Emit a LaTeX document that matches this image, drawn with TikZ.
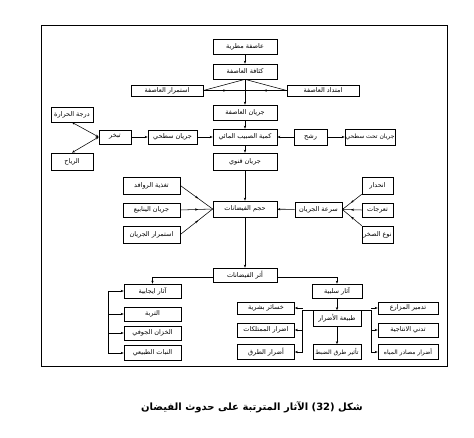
\documentclass[tikz,border=0pt]{standalone}
\usepackage{fontspec}
\newfontfamily\arabicfont[Script=Arabic]{DejaVu Sans}
\TeXXeTstate=1
\usetikzlibrary{arrows.meta,decorations.markings,calc}
\tikzset{
 box/.style={draw, line width=0.7pt, inner sep=0.5pt, font=\fontsize{6.5}{7}\arabicfont, align=center},
 small/.style={font=\fontsize{6}{7}\arabicfont},
 conn/.style={line width=0.55pt},
 arr/.style={conn, -{Stealth[length=3pt,width=2.4pt]}},
 darr/.style={conn, {Stealth[length=3pt,width=2.4pt]}-{Stealth[length=3pt,width=2.4pt]}},
 midarr/.style={conn, postaction={decorate}, decoration={markings, mark=at position 0.55 with {\arrow{Stealth[length=3pt,width=2.4pt]}}}},
 frame/.style={line width=0.9pt}
}
\newcommand{\bx}[7][]{\node[box, #1, minimum width=#5pt, minimum height=#6pt] (#2) at (#3,#4) {#7};}
\begin{document}
\begin{tikzpicture}[x=1pt,y=-1pt]
\useasboundingbox (0,0) rectangle (474,438);
\draw[frame] (41,25) rectangle (447,366);
\bx{storm}{245}{46.5}{64}{15}{\beginR عاصفة مطرية\endR}
\bx{dens}{245}{71.5}{64}{15}{\beginR كثافة العاصفة\endR}
\bx{dur}{167}{90.5}{72}{11}{\beginR استمرار العاصفة\endR}
\bx{ext}{323}{90.5}{72}{11}{\beginR امتداد العاصفة\endR}
\bx{srun}{245}{112.5}{64}{15}{\beginR جريان العاصفة\endR}
\bx{qty}{245}{137}{64}{16}{\beginR كمية الصبيب المائي\endR}
\bx{surf}{172.5}{137}{49}{14}{\beginR جريان سطحي\endR}
\bx{evap}{115}{137}{32}{14}{\beginR تبخر\endR}
\bx{temp}{72}{114.5}{42}{15}{\beginR درجة الحرارة\endR}
\bx{wind}{72}{161.5}{42}{17}{\beginR الرياح\endR}
\bx{seep}{310.5}{137}{33}{16}{\beginR رشح\endR}
\bx[small]{sub}{370}{137}{50}{16}{\beginR جريان تحت سطحي\endR}
\bx{chan}{245}{161.5}{64}{17}{\beginR جريان قنوي\endR}
\bx{trib}{151.5}{185.5}{57}{17}{\beginR تغذية الروافد\endR}
\bx{vol}{245}{209}{64}{16}{\beginR حجم الفيضانات\endR}
\bx{spring}{151.5}{210}{57}{14}{\beginR جريان الينابيع\endR}
\bx{cont}{151.5}{234.5}{57}{17}{\beginR استمرار الجريان\endR}
\bx{speed}{318.5}{209.5}{47}{15}{\beginR سرعة الجريان\endR}
\bx{slope}{377.5}{185.5}{31}{17}{\beginR انحدار\endR}
\bx{mean}{377.5}{210}{31}{14}{\beginR تعرجات\endR}
\bx{rock}{377.5}{234.5}{31}{17}{\beginR نوع الصخر\endR}
\bx{eff}{245}{275}{64}{14}{\beginR أثر الفيضانات\endR}
\bx{pos}{152.5}{291}{57}{14}{\beginR آثار ايجابية\endR}
\bx{soil}{152.5}{314}{57}{14}{\beginR التربة\endR}
\bx{gw}{152.5}{333}{57}{14}{\beginR الخزان الجوفي\endR}
\bx{veg}{152.5}{353}{57}{15}{\beginR النبات الطبيعي\endR}
\bx{neg}{337}{291}{50}{14}{\beginR آثار سلبية\endR}
\bx{nat}{337}{318.5}{48}{16}{\beginR طبيعة الأضرار\endR}
\bx[small]{ctrl}{337}{352}{48}{15}{\beginR تأثير طرق الضبط\endR}
\bx{loss}{266}{308}{57}{12}{\beginR خسائر بشرية\endR}
\bx{prop}{266}{330}{57}{14}{\beginR اضرار الممتلكات\endR}
\bx{road}{266}{352}{57}{15}{\beginR أضرار الطرق\endR}
\bx{farm}{408}{308}{60}{12}{\beginR تدمير المزارع\endR}
\bx{prod}{408}{330}{60}{14}{\beginR تدني الانتاجية\endR}
\bx[small]{water}{408}{352}{60}{15}{\beginR أضرار مصادر المياه\endR}
% storm part
\draw[arr] (storm) -- (dens);
\draw[conn] (dens.south) -- (dur.east);
\draw[conn] (dens.south) -- (ext.west);
\coordinate (mc) at (245,90.5);
\draw[midarr] (dur.east) -- (mc);
\draw[midarr] (ext.west) -- (mc);
\draw[arr] (dens) -- (srun);
\draw[arr] (srun) -- (qty);
% runoff row
\draw[arr] (evap) -- (surf);
\draw[arr] (surf) -- (qty);
\draw[arr] (seep) -- (qty);
\draw[arr] (seep) -- (sub);
\draw[darr] (temp.south) -- (evap.west);
\draw[darr] (wind.north) -- (evap.west);
\draw[arr] (qty) -- (chan);
\draw[arr] (chan) -- (vol);
% flood volume
\draw[midarr] (trib.east) -- (vol.west);
\draw[midarr] (spring.east) -- (vol.west);
\draw[midarr] (cont.east) -- (vol.west);
\draw[arr] (speed) -- (vol);
\draw[midarr] (slope.south west) -- (speed.east);
\draw[midarr] (mean.west) -- (speed.east);
\draw[midarr] (rock.north west) -- (speed.east);
\draw[arr] (vol) -- (eff);
% effects
\draw[arr] ($(eff.west)+(0,2)$) -| (pos.north);
\draw[arr] ($(eff.east)+(0,2)$) -| (neg.north);
\coordinate (bl) at (108,291);
\draw[arr] (bl) -- (pos.west);
\draw[arr] (bl) |- (veg.west);
\draw[arr] (bl |- soil) -- (soil.west);
\draw[arr] (bl |- gw) -- (gw.west);
\draw[arr] (neg) -- (nat);
\draw[arr] (nat) -- (ctrl);
\draw[conn] (nat.north west) -- ++(-10,0) coordinate (tl);
\draw[arr] (tl) |- (road.east);
\draw[arr] (tl |- loss) -- (loss.east);
\draw[arr] (tl |- prop) -- (prop.east);
\draw[conn] (nat.north east) -- ++(10,0) coordinate (tr);
\draw[arr] (tr) |- (water.west);
\draw[arr] (tr |- farm) -- (farm.west);
\draw[arr] (tr |- prod) -- (prod.west);
% caption
\node[font=\fontsize{10}{12}\arabicfont\bfseries] (cap) at (252,407) {\beginR شكل \beginL(32)\endL{} الآثار المترتبة على حدوث الفيضان\endR};
\end{tikzpicture}
\end{document}
